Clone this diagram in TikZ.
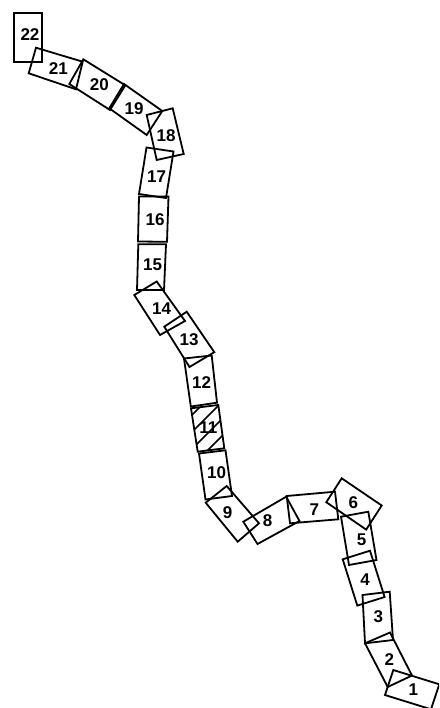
\documentclass[tikz,border=0pt]{standalone}
\usepackage{fontspec}
\setmainfont{Liberation Sans}
\begin{document}
\begin{tikzpicture}[x=1pt,y=-1pt,
  box/.style={draw=black, line width=1.8pt, line join=miter},
  hatch/.style={draw=black, line width=1.5pt},
  lbl/.style={font=\bfseries\fontsize{17}{17}\selectfont, inner sep=0pt}]
\useasboundingbox (0,0) rectangle (439,708);
\fill[white] (0,0) rectangle (439,708);
\clip (0,0) rectangle (439,708);
% boxes
\draw[box] (393.3,670) -- (439.3,684.3) -- (431,709.3) -- (385,695) -- cycle;       % 1
\draw[box] (365,643.3) -- (390,632.5) -- (412,675.5) -- (387.7,687) -- cycle;       % 2
\draw[box] (362.5,595) -- (389.7,591.7) -- (393,640) -- (365,643.3) -- cycle;       % 3
\draw[box] (342.7,559.3) -- (370,550.7) -- (384.6,597) -- (357.3,605.6) -- cycle;   % 4
\draw[box] (341,516.7) -- (368.3,511.7) -- (376.5,560) -- (349,565) -- cycle;       % 5
\draw[box] (341.7,478.3) -- (381.7,505.5) -- (366.2,529.6) -- (326.3,502.2) -- cycle; % 6
\draw[box] (286.7,496) -- (335,491.7) -- (338.3,519.3) -- (290,523.3) -- cycle;     % 7
\draw[box] (243.3,521.7) -- (286.2,496.7) -- (299.5,521) -- (257.5,544) -- cycle;   % 8
\draw[box] (226.7,486) -- (259,523.3) -- (237.7,541.7) -- (205.7,502.7) -- cycle;   % 9
\draw[box] (199,453.5) -- (225.5,450.3) -- (232,496) -- (205.5,499.5) -- cycle;     % 10
\draw[box] (191,408.3) -- (218.3,405) -- (224.3,448.3) -- (197.7,451.7) -- cycle;   % 11
\draw[box] (184,358.5) -- (211.7,355.5) -- (217,402.7) -- (190.8,406.5) -- cycle;   % 12
\draw[box] (186.7,311.7) -- (214.3,352.2) -- (189.5,367) -- (164.3,326.7) -- cycle; % 13
\draw[box] (156.7,281.5) -- (185,321) -- (160,335) -- (134.3,295) -- cycle;         % 14
\draw[box] (138.3,244.3) -- (166,244.3) -- (164,290) -- (137,290) -- cycle;         % 15
\draw[box] (139,196.5) -- (168.5,196.5) -- (167,241.8) -- (138,241.5) -- cycle;     % 16
\draw[box] (146.5,147.5) -- (173.5,151.5) -- (166,198) -- (139,194) -- cycle;       % 17
\draw[box] (146.7,115) -- (172.7,108.3) -- (183.7,154) -- (156.7,160) -- cycle;     % 18
\draw[box] (124,84) -- (162.3,111) -- (146.7,135) -- (109.3,108.3) -- cycle;        % 19
\draw[box] (83.3,59.3) -- (125.3,85.3) -- (110,110) -- (69.3,84) -- cycle;          % 20
\draw[box] (36,47.7) -- (82.7,61.7) -- (76,89.3) -- (28.7,73.3) -- cycle;           % 21
\draw[box] (14,12.7) -- (42.3,12.7) -- (42.3,62.3) -- (14,62.3) -- cycle;           % 22
% hatching of 11
\begin{scope}
  \clip (191,408.3) -- (218.3,405) -- (224.3,448.3) -- (197.7,451.7) -- cycle;
  \foreach \c in {607,624,641,658}
    \draw[hatch] (180,{\c-180}) -- (235,{\c-235});
\end{scope}
% labels
\node[lbl] (l1)  at (413.3,689.3) {1};
\node[lbl] (l2)  at (389.3,660) {2};
\node[lbl] (l3)  at (378.3,616.7) {3};
\node[lbl] (l4)  at (365,579.3) {4};
\node[lbl] (l5)  at (361.7,540) {5};
\node[lbl] (l6)  at (353.3,502.7) {6};
\node[lbl] (l7)  at (314.3,509.3) {7};
\node[lbl] (l8)  at (267.7,520.7) {8};
\node[lbl] (l9)  at (227.7,512.3) {9};
\node[lbl] (l10) at (216.7,472.7) {10};
\node[lbl] (l11) at (208.3,427.3) {11};
\node[lbl] (l12) at (201.7,382.7) {12};
\node[lbl] (l13) at (189,339.3) {13};
\node[lbl] (l14) at (161.7,308.3) {14};
\node[lbl] (l15) at (152.7,265) {15};
\node[lbl] (l16) at (155,220) {16};
\node[lbl] (l17) at (156.7,176.7) {17};
\node[lbl] (l18) at (166,136) {18};
\node[lbl] (l19) at (134,108.3) {19};
\node[lbl] (l20) at (99.3,85) {20};
\node[lbl] (l21) at (58.3,68.3) {21};
\node[lbl] (l22) at (30,35) {22};
\end{tikzpicture}
\end{document}
